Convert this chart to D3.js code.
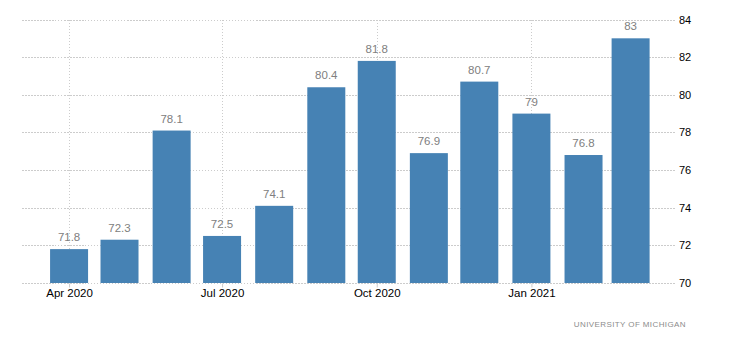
<!DOCTYPE html>
<html>
<head>
<meta charset="utf-8">
<script src="https://cdn.jsdelivr.net/npm/d3@7/dist/d3.min.js"></script>
<style>
  html, body { margin: 0; padding: 0; background: #fff; }
  svg { display: block; font-family: "Liberation Sans", Arial, sans-serif; }
</style>
</head>
<body>
<svg id="chart" width="730" height="342"></svg>
<script>
// Monthly consumer sentiment readings
const months = ["2020-04", "2020-05", "2020-06", "2020-07", "2020-08", "2020-09",
                "2020-10", "2020-11", "2020-12", "2021-01", "2021-02", "2021-03"];
const values = [71.8, 72.3, 78.1, 72.5, 74.1, 80.4, 81.8, 76.9, 80.7, 79, 76.8, 83];
const xTickLabels = ["Apr 2020", "Jul 2020", "Oct 2020", "Jan 2021"];
const yTicks = [70, 72, 74, 76, 78, 80, 82, 84];
const sourceLabel = "UNIVERSITY OF MICHIGAN";

const parseMonth = d3.timeParse("%Y-%m");
const dates = months.map(parseMonth);
const xTickDates = [parseMonth("2020-04"), parseMonth("2020-07"), parseMonth("2020-10"), parseMonth("2021-01")];

const svg = d3.select("#chart");
const plot = { left: 22, right: 676, top: 19.5, bottom: 283 };

const x = d3.scaleTime()
  .domain([d3.timeDay.offset(dates[0], -28), d3.timeDay.offset(dates[dates.length - 1], 27)])
  .range([plot.left, plot.right]);
const y = d3.scaleLinear().domain([70, 84]).range([plot.bottom, plot.top]);
const barW = 38;

const grid = svg.append("g")
  .attr("stroke", "#cccccc")
  .attr("stroke-width", 1)
  .attr("stroke-dasharray", "1.5,1.5")
  .attr("shape-rendering", "crispEdges");

// horizontal gridlines
grid.selectAll("line.h").data(yTicks).join("line")
  .attr("class", "h")
  .attr("x1", plot.left).attr("x2", plot.right)
  .attr("y1", d => Math.round(y(d)) + 0.5)
  .attr("y2", d => Math.round(y(d)) + 0.5);

// vertical gridlines
grid.selectAll("line.v").data(xTickDates).join("line")
  .attr("class", "v")
  .attr("x1", d => Math.round(x(d)) + 0.5).attr("x2", d => Math.round(x(d)) + 0.5)
  .attr("y1", plot.top).attr("y2", plot.bottom);

// bars
svg.append("g").selectAll("rect").data(values).join("rect")
  .attr("x", (d, i) => x(dates[i]) - barW / 2)
  .attr("width", barW)
  .attr("y", d => y(d))
  .attr("height", d => y(70) - y(d))
  .attr("fill", "#4682b4");

// value labels
svg.append("g").selectAll("text").data(values).join("text")
  .attr("x", (d, i) => x(dates[i]))
  .attr("y", d => y(d) - 8)
  .attr("text-anchor", "middle")
  .attr("font-size", 11.5)
  .attr("fill", "#808080")
  .text(d => d);

// bottom axis
const xAxis = d3.axisBottom(x)
  .tickValues(xTickDates)
  .tickFormat((d, i) => xTickLabels[i])
  .tickSize(4)
  .tickSizeOuter(0);
const gx = svg.append("g")
  .attr("transform", `translate(0,${Math.round(y(70)) + 0.5})`)
  .call(xAxis);
gx.select(".domain").remove();
gx.selectAll(".tick line").attr("stroke", "#cccccc");
gx.selectAll(".tick text")
  .attr("font-size", 11.5)
  .attr("font-family", "Liberation Sans, Arial, sans-serif")
  .attr("fill", "#000")
  .attr("dy", "0.6em");

// right axis
const yAxis = d3.axisRight(y).tickValues(yTicks).tickSize(0).tickPadding(4);
const gy = svg.append("g")
  .attr("transform", `translate(${plot.right - 1},0)`)
  .call(yAxis);
gy.select(".domain").remove();
gy.selectAll(".tick text")
  .attr("font-size", 11)
  .attr("font-family", "Liberation Sans, Arial, sans-serif")
  .attr("fill", "#000");

// source
svg.append("text")
  .attr("x", 686).attr("y", 327)
  .attr("text-anchor", "end")
  .attr("font-size", 8)
  .attr("letter-spacing", 0.4)
  .attr("fill", "#8c8c8c")
  .text(sourceLabel);
</script>
</body>
</html>
